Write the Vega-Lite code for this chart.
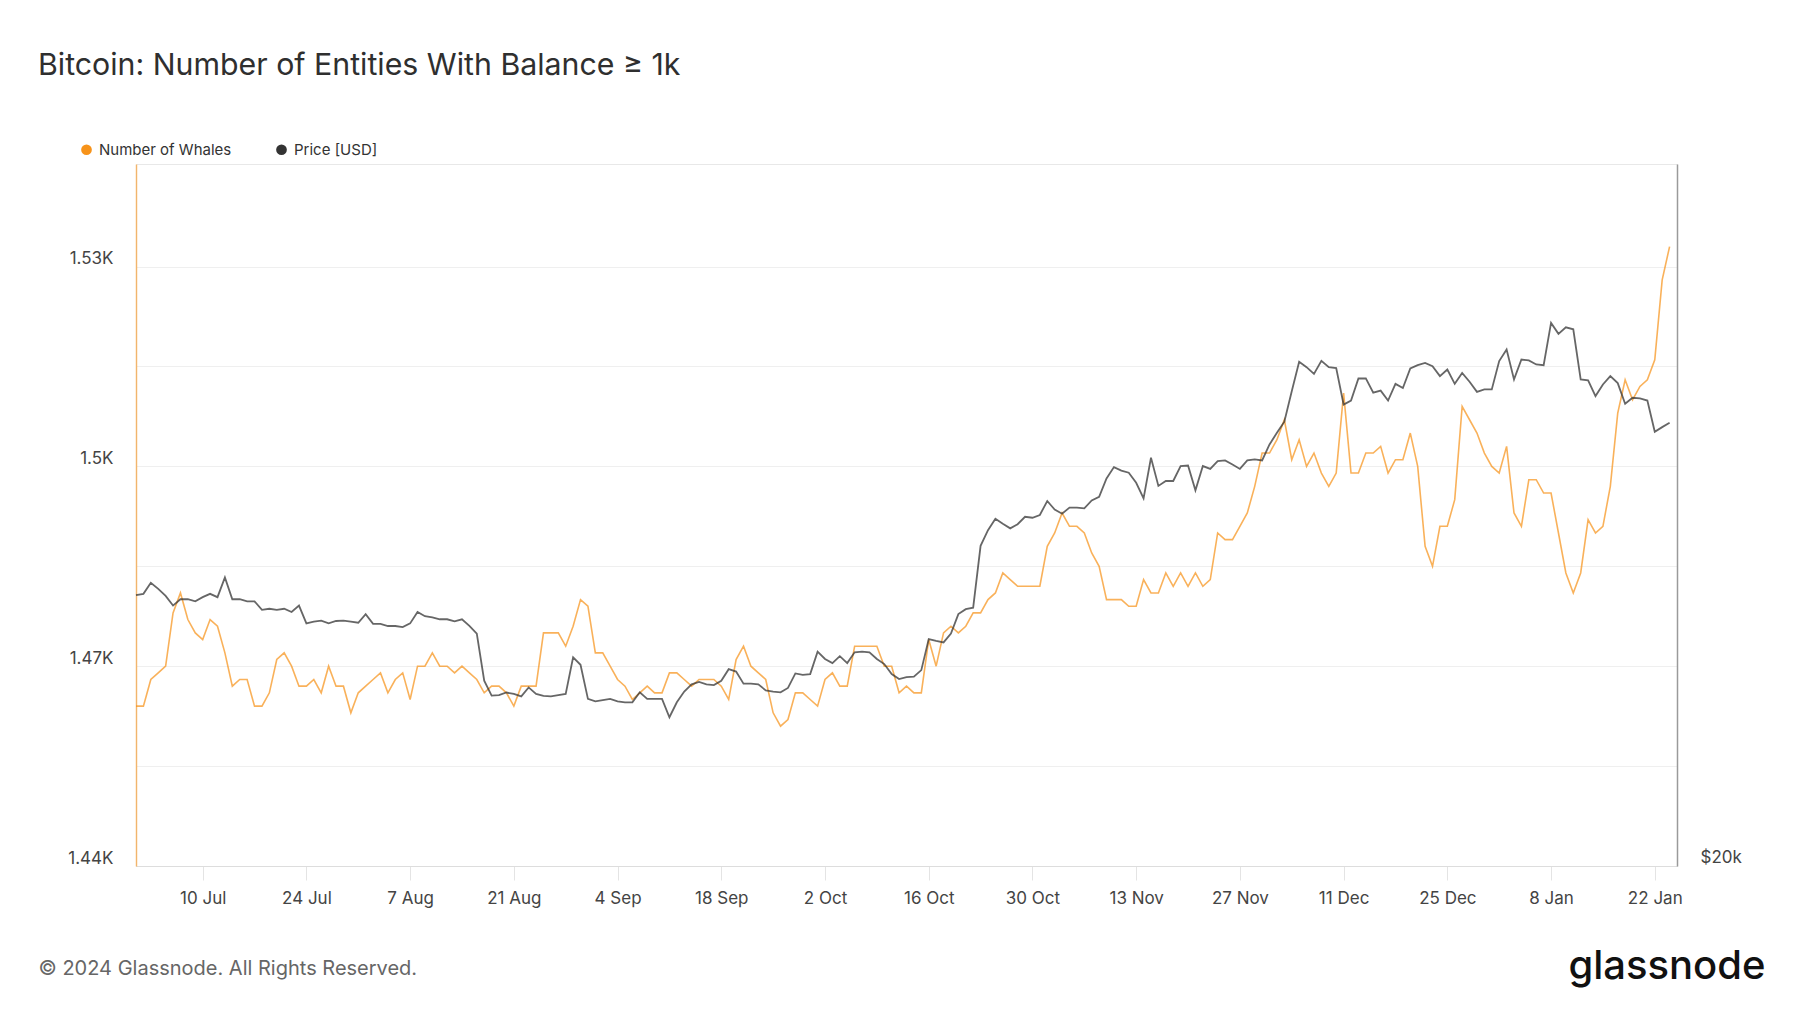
{
  "$schema": "https://vega.github.io/schema/vega-lite/v6.json",
  "description": "Bitcoin: number of entities with balance >= 1k vs price",
  "autosize": {"type": "none"},
  "padding": {"left": 136, "top": 164, "right": 123, "bottom": 147},
  "width": 1541,
  "height": 702,
  "background": "white",
  "config": {
    "font": "Inter",
    "view": {"stroke": "#e8e8e8", "strokeWidth": 1},
    "axis": {"gridColor": "#efefef", "gridWidth": 1, "labelFont": "Inter", "titleFont": "Inter"}
  },
  "title": {
    "text": "Bitcoin: Number of Entities With Balance ≥ 1k",
    "anchor": "start",
    "frame": "group",
    "dx": -98,
    "offset": 37,
    "baseline": "alphabetic",
    "fontSize": 30.3,
    "fontWeight": 400,
    "color": "#2f2f2f"
  },
  "data": {
    "values": [
      {"d": "2023-07-01", "w": 1464, "p": 30600},
      {"d": "2023-07-02", "w": 1464, "p": 30660},
      {"d": "2023-07-03", "w": 1468, "p": 31200},
      {"d": "2023-07-04", "w": 1469, "p": 30900},
      {"d": "2023-07-05", "w": 1470, "p": 30560},
      {"d": "2023-07-06", "w": 1478, "p": 30100},
      {"d": "2023-07-07", "w": 1481, "p": 30400},
      {"d": "2023-07-08", "w": 1477, "p": 30400},
      {"d": "2023-07-09", "w": 1475, "p": 30300},
      {"d": "2023-07-10", "w": 1474, "p": 30500},
      {"d": "2023-07-11", "w": 1477, "p": 30660},
      {"d": "2023-07-12", "w": 1476, "p": 30500},
      {"d": "2023-07-13", "w": 1472, "p": 31460},
      {"d": "2023-07-14", "w": 1467, "p": 30400},
      {"d": "2023-07-15", "w": 1468, "p": 30400},
      {"d": "2023-07-16", "w": 1468, "p": 30300},
      {"d": "2023-07-17", "w": 1464, "p": 30300},
      {"d": "2023-07-18", "w": 1464, "p": 29900},
      {"d": "2023-07-19", "w": 1466, "p": 29950},
      {"d": "2023-07-20", "w": 1471, "p": 29900},
      {"d": "2023-07-21", "w": 1472, "p": 29950},
      {"d": "2023-07-22", "w": 1470, "p": 29800},
      {"d": "2023-07-23", "w": 1467, "p": 30100},
      {"d": "2023-07-24", "w": 1467, "p": 29270},
      {"d": "2023-07-25", "w": 1468, "p": 29350},
      {"d": "2023-07-26", "w": 1466, "p": 29400},
      {"d": "2023-07-27", "w": 1470, "p": 29270},
      {"d": "2023-07-28", "w": 1467, "p": 29380},
      {"d": "2023-07-29", "w": 1467, "p": 29400},
      {"d": "2023-07-30", "w": 1463, "p": 29350},
      {"d": "2023-07-31", "w": 1466, "p": 29300},
      {"d": "2023-08-01", "w": 1467, "p": 29700},
      {"d": "2023-08-02", "w": 1468, "p": 29250},
      {"d": "2023-08-03", "w": 1469, "p": 29250},
      {"d": "2023-08-04", "w": 1466, "p": 29150},
      {"d": "2023-08-05", "w": 1468, "p": 29150},
      {"d": "2023-08-06", "w": 1469, "p": 29100},
      {"d": "2023-08-07", "w": 1465, "p": 29270},
      {"d": "2023-08-08", "w": 1470, "p": 29800},
      {"d": "2023-08-09", "w": 1470, "p": 29600},
      {"d": "2023-08-10", "w": 1472, "p": 29550},
      {"d": "2023-08-11", "w": 1470, "p": 29460},
      {"d": "2023-08-12", "w": 1470, "p": 29460},
      {"d": "2023-08-13", "w": 1469, "p": 29360},
      {"d": "2023-08-14", "w": 1470, "p": 29460},
      {"d": "2023-08-15", "w": 1469, "p": 29160},
      {"d": "2023-08-16", "w": 1468, "p": 28800},
      {"d": "2023-08-17", "w": 1466, "p": 26750},
      {"d": "2023-08-18", "w": 1467, "p": 26130},
      {"d": "2023-08-19", "w": 1467, "p": 26150},
      {"d": "2023-08-20", "w": 1466, "p": 26260},
      {"d": "2023-08-21", "w": 1464, "p": 26200},
      {"d": "2023-08-22", "w": 1467, "p": 26100},
      {"d": "2023-08-23", "w": 1467, "p": 26470},
      {"d": "2023-08-24", "w": 1467, "p": 26200},
      {"d": "2023-08-25", "w": 1475, "p": 26120},
      {"d": "2023-08-26", "w": 1475, "p": 26100},
      {"d": "2023-08-27", "w": 1475, "p": 26150},
      {"d": "2023-08-28", "w": 1473, "p": 26200},
      {"d": "2023-08-29", "w": 1476, "p": 27750},
      {"d": "2023-08-30", "w": 1480, "p": 27430},
      {"d": "2023-08-31", "w": 1479, "p": 26000},
      {"d": "2023-09-01", "w": 1472, "p": 25900},
      {"d": "2023-09-02", "w": 1472, "p": 25950},
      {"d": "2023-09-03", "w": 1470, "p": 26000},
      {"d": "2023-09-04", "w": 1468, "p": 25900},
      {"d": "2023-09-05", "w": 1467, "p": 25860},
      {"d": "2023-09-06", "w": 1465, "p": 25860},
      {"d": "2023-09-07", "w": 1466, "p": 26270},
      {"d": "2023-09-08", "w": 1467, "p": 26000},
      {"d": "2023-09-09", "w": 1466, "p": 26000},
      {"d": "2023-09-10", "w": 1466, "p": 26000},
      {"d": "2023-09-11", "w": 1469, "p": 25260},
      {"d": "2023-09-12", "w": 1469, "p": 25860},
      {"d": "2023-09-13", "w": 1468, "p": 26300},
      {"d": "2023-09-14", "w": 1467, "p": 26600},
      {"d": "2023-09-15", "w": 1468, "p": 26700},
      {"d": "2023-09-16", "w": 1468, "p": 26600},
      {"d": "2023-09-17", "w": 1468, "p": 26570},
      {"d": "2023-09-18", "w": 1467, "p": 26750},
      {"d": "2023-09-19", "w": 1465, "p": 27240},
      {"d": "2023-09-20", "w": 1471, "p": 27140},
      {"d": "2023-09-21", "w": 1473, "p": 26630},
      {"d": "2023-09-22", "w": 1470, "p": 26630},
      {"d": "2023-09-23", "w": 1469, "p": 26600},
      {"d": "2023-09-24", "w": 1468, "p": 26350},
      {"d": "2023-09-25", "w": 1463, "p": 26300},
      {"d": "2023-09-26", "w": 1461, "p": 26270},
      {"d": "2023-09-27", "w": 1462, "p": 26450},
      {"d": "2023-09-28", "w": 1466, "p": 27060},
      {"d": "2023-09-29", "w": 1466, "p": 27000},
      {"d": "2023-09-30", "w": 1465, "p": 27030},
      {"d": "2023-10-01", "w": 1464, "p": 28000},
      {"d": "2023-10-02", "w": 1468, "p": 27680},
      {"d": "2023-10-03", "w": 1469, "p": 27500},
      {"d": "2023-10-04", "w": 1467, "p": 27800},
      {"d": "2023-10-05", "w": 1467, "p": 27500},
      {"d": "2023-10-06", "w": 1473, "p": 27970},
      {"d": "2023-10-07", "w": 1473, "p": 28000},
      {"d": "2023-10-08", "w": 1473, "p": 27970},
      {"d": "2023-10-09", "w": 1473, "p": 27680},
      {"d": "2023-10-10", "w": 1470, "p": 27460},
      {"d": "2023-10-11", "w": 1470, "p": 27030},
      {"d": "2023-10-12", "w": 1466, "p": 26820},
      {"d": "2023-10-13", "w": 1467, "p": 26900},
      {"d": "2023-10-14", "w": 1466, "p": 26920},
      {"d": "2023-10-15", "w": 1466, "p": 27200},
      {"d": "2023-10-16", "w": 1474, "p": 28560},
      {"d": "2023-10-17", "w": 1470, "p": 28480},
      {"d": "2023-10-18", "w": 1475, "p": 28410},
      {"d": "2023-10-19", "w": 1476, "p": 28810},
      {"d": "2023-10-20", "w": 1475, "p": 29700},
      {"d": "2023-10-21", "w": 1476, "p": 29930},
      {"d": "2023-10-22", "w": 1478, "p": 30000},
      {"d": "2023-10-23", "w": 1478, "p": 33060},
      {"d": "2023-10-24", "w": 1480, "p": 33880},
      {"d": "2023-10-25", "w": 1481, "p": 34500},
      {"d": "2023-10-26", "w": 1484, "p": 34230},
      {"d": "2023-10-27", "w": 1483, "p": 33980},
      {"d": "2023-10-28", "w": 1482, "p": 34200},
      {"d": "2023-10-29", "w": 1482, "p": 34600},
      {"d": "2023-10-30", "w": 1482, "p": 34550},
      {"d": "2023-10-31", "w": 1482, "p": 34700},
      {"d": "2023-11-01", "w": 1488, "p": 35470},
      {"d": "2023-11-02", "w": 1490, "p": 35000},
      {"d": "2023-11-03", "w": 1493, "p": 34770},
      {"d": "2023-11-04", "w": 1491, "p": 35100},
      {"d": "2023-11-05", "w": 1491, "p": 35100},
      {"d": "2023-11-06", "w": 1490, "p": 35060},
      {"d": "2023-11-07", "w": 1487, "p": 35500},
      {"d": "2023-11-08", "w": 1485, "p": 35700},
      {"d": "2023-11-09", "w": 1480, "p": 36750},
      {"d": "2023-11-10", "w": 1480, "p": 37410},
      {"d": "2023-11-11", "w": 1480, "p": 37200},
      {"d": "2023-11-12", "w": 1479, "p": 37080},
      {"d": "2023-11-13", "w": 1479, "p": 36500},
      {"d": "2023-11-14", "w": 1483, "p": 35620},
      {"d": "2023-11-15", "w": 1481, "p": 37960},
      {"d": "2023-11-16", "w": 1481, "p": 36320},
      {"d": "2023-11-17", "w": 1484, "p": 36600},
      {"d": "2023-11-18", "w": 1482, "p": 36600},
      {"d": "2023-11-19", "w": 1484, "p": 37470},
      {"d": "2023-11-20", "w": 1482, "p": 37500},
      {"d": "2023-11-21", "w": 1484, "p": 36070},
      {"d": "2023-11-22", "w": 1482, "p": 37470},
      {"d": "2023-11-23", "w": 1483, "p": 37300},
      {"d": "2023-11-24", "w": 1490, "p": 37760},
      {"d": "2023-11-25", "w": 1489, "p": 37800},
      {"d": "2023-11-26", "w": 1489, "p": 37560},
      {"d": "2023-11-27", "w": 1491, "p": 37300},
      {"d": "2023-11-28", "w": 1493, "p": 37800},
      {"d": "2023-11-29", "w": 1497, "p": 37860},
      {"d": "2023-11-30", "w": 1502, "p": 37800},
      {"d": "2023-12-01", "w": 1502, "p": 38760},
      {"d": "2023-12-02", "w": 1504, "p": 39480},
      {"d": "2023-12-03", "w": 1507, "p": 40170},
      {"d": "2023-12-04", "w": 1501, "p": 42140},
      {"d": "2023-12-05", "w": 1504, "p": 44130},
      {"d": "2023-12-06", "w": 1500, "p": 43760},
      {"d": "2023-12-07", "w": 1502, "p": 43300},
      {"d": "2023-12-08", "w": 1499, "p": 44200},
      {"d": "2023-12-09", "w": 1497, "p": 43760},
      {"d": "2023-12-10", "w": 1499, "p": 43700},
      {"d": "2023-12-11", "w": 1511, "p": 41270},
      {"d": "2023-12-12", "w": 1499, "p": 41530},
      {"d": "2023-12-13", "w": 1499, "p": 42990},
      {"d": "2023-12-14", "w": 1502, "p": 43000},
      {"d": "2023-12-15", "w": 1502, "p": 42040},
      {"d": "2023-12-16", "w": 1503, "p": 42180},
      {"d": "2023-12-17", "w": 1499, "p": 41530},
      {"d": "2023-12-18", "w": 1501, "p": 42630},
      {"d": "2023-12-19", "w": 1501, "p": 42350},
      {"d": "2023-12-20", "w": 1505, "p": 43670},
      {"d": "2023-12-21", "w": 1500, "p": 43900},
      {"d": "2023-12-22", "w": 1488, "p": 44060},
      {"d": "2023-12-23", "w": 1485, "p": 43830},
      {"d": "2023-12-24", "w": 1491, "p": 43150},
      {"d": "2023-12-25", "w": 1491, "p": 43600},
      {"d": "2023-12-26", "w": 1495, "p": 42630},
      {"d": "2023-12-27", "w": 1509, "p": 43370},
      {"d": "2023-12-28", "w": 1507, "p": 42770},
      {"d": "2023-12-29", "w": 1505, "p": 42100},
      {"d": "2023-12-30", "w": 1502, "p": 42260},
      {"d": "2023-12-31", "w": 1500, "p": 42260},
      {"d": "2024-01-01", "w": 1499, "p": 44180},
      {"d": "2024-01-02", "w": 1503, "p": 44990},
      {"d": "2024-01-03", "w": 1493, "p": 42930},
      {"d": "2024-01-04", "w": 1491, "p": 44290},
      {"d": "2024-01-05", "w": 1498, "p": 44230},
      {"d": "2024-01-06", "w": 1498, "p": 43950},
      {"d": "2024-01-07", "w": 1496, "p": 43900},
      {"d": "2024-01-08", "w": 1496, "p": 46910},
      {"d": "2024-01-09", "w": 1490, "p": 46110},
      {"d": "2024-01-10", "w": 1484, "p": 46590},
      {"d": "2024-01-11", "w": 1481, "p": 46440},
      {"d": "2024-01-12", "w": 1484, "p": 42930},
      {"d": "2024-01-13", "w": 1492, "p": 42870},
      {"d": "2024-01-14", "w": 1490, "p": 41820},
      {"d": "2024-01-15", "w": 1491, "p": 42590},
      {"d": "2024-01-16", "w": 1497, "p": 43150},
      {"d": "2024-01-17", "w": 1508, "p": 42680},
      {"d": "2024-01-18", "w": 1513, "p": 41320},
      {"d": "2024-01-19", "w": 1510, "p": 41710},
      {"d": "2024-01-20", "w": 1512, "p": 41670},
      {"d": "2024-01-21", "w": 1513, "p": 41530},
      {"d": "2024-01-22", "w": 1516, "p": 39540},
      {"d": "2024-01-23", "w": 1528, "p": 39830},
      {"d": "2024-01-24", "w": 1533, "p": 40100}
    ]
  },
  "encoding": {
    "x": {
      "field": "d",
      "type": "temporal",
      "scale": {
        "type": "utc",
        "domain": [
          {"year": 2023, "month": 7, "date": 1, "utc": true},
          {"year": 2024, "month": 1, "date": 25, "utc": true}
        ]
      },
      "axis": {
        "values": [
          {"year": 2023, "month": 7, "date": 10, "utc": true},
          {"year": 2023, "month": 7, "date": 24, "utc": true},
          {"year": 2023, "month": 8, "date": 7, "utc": true},
          {"year": 2023, "month": 8, "date": 21, "utc": true},
          {"year": 2023, "month": 9, "date": 4, "utc": true},
          {"year": 2023, "month": 9, "date": 18, "utc": true},
          {"year": 2023, "month": 10, "date": 2, "utc": true},
          {"year": 2023, "month": 10, "date": 16, "utc": true},
          {"year": 2023, "month": 10, "date": 30, "utc": true},
          {"year": 2023, "month": 11, "date": 13, "utc": true},
          {"year": 2023, "month": 11, "date": 27, "utc": true},
          {"year": 2023, "month": 12, "date": 11, "utc": true},
          {"year": 2023, "month": 12, "date": 25, "utc": true},
          {"year": 2024, "month": 1, "date": 8, "utc": true},
          {"year": 2024, "month": 1, "date": 22, "utc": true}
        ],
        "format": "%-d %b",
        "grid": false,
        "domainColor": "#dddddd",
        "tickColor": "#e4e4e4",
        "tickSize": 14,
        "labelPadding": 10,
        "labelFontSize": 17,
        "labelColor": "#444444",
        "title": "© 2024 Glassnode. All Rights Reserved.",
        "titleFontSize": 20,
        "titleFontWeight": "normal",
        "titleColor": "#666666",
        "titleAnchor": "start",
        "titleAlign": "left",
        "titleBaseline": "middle",
        "titleX": -98,
        "titleY": 102
      }
    }
  },
  "layer": [
    {
      "mark": {"type": "line", "strokeWidth": 1.6, "strokeOpacity": 0.72, "interpolate": "linear"},
      "encoding": {
        "y": {
          "field": "w",
          "type": "quantitative",
          "scale": {"domain": [1440, 1545.4], "nice": false, "zero": false},
          "axis": {
            "values": [1440, 1455, 1470, 1485, 1500, 1515, 1530],
            "labelExpr": "(datum.value - 1440) % 30 == 0 ? format(datum.value / 1000, '.3~g') + 'K' : ''",
            "ticks": false,
            "labelPadding": 23,
            "labelFontSize": 17,
            "labelColor": "#444444",
            "labelBaseline": "alphabetic",
            "labelOffset": -3,
            "domainColor": "#F7931A",
            "domainOpacity": 0.6,
            "domainWidth": 1.5,
            "title": null
          }
        },
        "color": {
          "datum": "Number of Whales",
          "type": "nominal",
          "scale": {"domain": ["Number of Whales", "Price [USD]"], "range": ["#F7931A", "#333333"]},
          "legend": {
            "title": null,
            "orient": "none",
            "direction": "horizontal",
            "legendX": -57,
            "legendY": -22,
            "symbolType": "circle",
            "symbolSize": 115,
            "symbolStrokeWidth": 0,
            "labelFontSize": 15,
            "labelColor": "#333333",
            "labelOffset": 5,
            "columnPadding": 42,
            "encode": {
              "symbols": {
                "update": {
                  "fill": {"scale": "color", "field": "value"},
                  "fillOpacity": {"value": 1},
                  "opacity": {"value": 1},
                  "strokeWidth": {"value": 0}
                }
              }
            }
          }
        }
      }
    },
    {
      "mark": {"type": "line", "strokeWidth": 1.8, "strokeOpacity": 0.75, "interpolate": "linear"},
      "encoding": {
        "y": {
          "field": "p",
          "type": "quantitative",
          "scale": {"type": "log", "domain": [20000, 60200], "nice": false},
          "axis": {
            "orient": "right",
            "values": [20000, 40000],
            "labelExpr": "datum.value == 20000 ? '$20k' : ''",
            "ticks": false,
            "labelPadding": 23,
            "labelFontSize": 17,
            "labelColor": "#444444",
            "labelBaseline": "alphabetic",
            "labelOffset": -4,
            "domainColor": "#9a9a9a",
            "domainWidth": 1.5,
            "title": "glassnode",
            "titleAngle": 0,
            "titleAlign": "right",
            "titleBaseline": "middle",
            "titleX": 88,
            "titleY": 802,
            "titleFontSize": 40,
            "titleFontWeight": 500,
            "titleColor": "#111111"
          }
        },
        "color": {"datum": "Price [USD]", "type": "nominal"}
      }
    }
  ],
  "resolve": {"scale": {"y": "independent"}}
}
